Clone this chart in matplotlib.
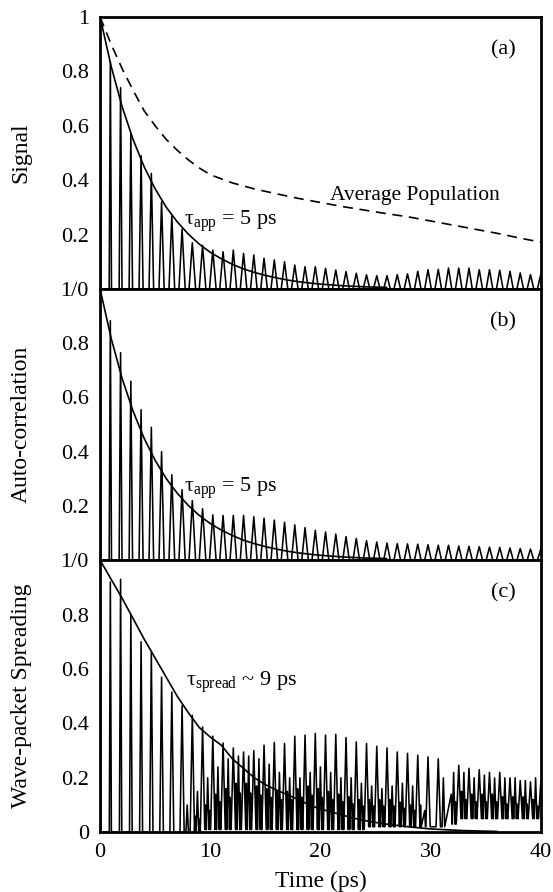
"""Signal, auto-correlation and wave-packet spreading vs time."""

import numpy as np
import matplotlib
matplotlib.use('Agg')
import matplotlib.pyplot as plt

# ---- data ---------------------------------------------------------------
period = 0.93  # ps between revivals

signal_peaks = [1.0, 0.835, 0.74, 0.57, 0.49, 0.425, 0.32, 0.27, 0.22, 0.17,
                0.16, 0.143, 0.137, 0.143, 0.131, 0.125, 0.113, 0.107, 0.10,
                0.088, 0.082, 0.082, 0.076, 0.07, 0.064, 0.058, 0.052, 0.049,
                0.049, 0.053, 0.056, 0.065, 0.071, 0.072, 0.077, 0.077, 0.077,
                0.071, 0.071, 0.069, 0.065, 0.059, 0.053, 0.053]

autocorr_peaks = [1.0, 0.883, 0.765, 0.66, 0.555, 0.49, 0.40, 0.315, 0.26,
                  0.22, 0.19, 0.167, 0.165, 0.165, 0.165, 0.16, 0.155, 0.148,
                  0.14, 0.13, 0.12, 0.11, 0.104, 0.096, 0.087, 0.08, 0.072,
                  0.067, 0.063, 0.061, 0.06, 0.059, 0.057, 0.055, 0.055,
                  0.052, 0.051, 0.05, 0.048, 0.047, 0.045, 0.043, 0.041, 0.04]

spread_peaks = [1.0, 0.92, 0.93, 0.80, 0.70, 0.66, 0.57, 0.515, 0.465, 0.43,
                0.387, 0.353, 0.328, 0.31, 0.295, 0.30, 0.32, 0.33, 0.326,
                0.353, 0.357, 0.363, 0.357, 0.36, 0.348, 0.332, 0.326, 0.316,
                0.31, 0.295, 0.29, 0.283, 0.277, 0.27, np.nan, 0.246, 0.235,
                0.23, 0.22, 0.22, 0.20, 0.19, 0.185, 0.18]

# secondary maxima half way between the main revivals (panel c only)
spread_secondary = [np.nan] * 8 + [
    0.10, 0.15, 0.20, 0.24, 0.27, 0.28, 0.28, 0.27, 0.25, 0.22, 0.20, 0.20,
    0.22, 0.24, 0.22, 0.20, 0.20, 0.18, 0.17, 0.16, 0.17, 0.18, 0.17,
    np.nan, np.nan, 0.20, 0.22, 0.22, 0.20, 0.21, 0.20, 0.20, 0.20, 0.19,
    0.20, 0.18]

# smaller wiggles on the flanks of the revivals (panel c only)
spread_shoulder = [np.nan] * 9 + [
    0.06, 0.10, 0.14, 0.16, 0.18, 0.18, 0.17, 0.16, 0.15, 0.15, 0.16,
    0.17, 0.16, 0.15, 0.14, 0.13, 0.12, 0.12, 0.12, 0.12, 0.11, 0.10,
    0.10, np.nan, np.nan, 0.14, 0.15, 0.14, 0.14, 0.14, 0.13, 0.13, 0.13,
    0.12, 0.12]

spread_floor = [0.0] * 10 + [0.01] * 16 + [0.02] * 8 + [0.03] + [0.05] * 9

fit_time = list(range(27))
fit_5ps = [1.0, 0.819, 0.670, 0.549, 0.449, 0.368, 0.301, 0.247, 0.202,
           0.165, 0.135, 0.111, 0.091, 0.074, 0.061, 0.050, 0.041, 0.033,
           0.027, 0.022, 0.018, 0.015, 0.012, 0.010, 0.008, 0.007, 0.006]

spread_fit_time = list(range(37))
spread_fit = [1.0, 0.93, 0.86, 0.785, 0.71, 0.64, 0.57, 0.50, 0.44, 0.385,
              0.35, 0.32, 0.27, 0.235, 0.20, 0.175, 0.155, 0.138, 0.12, 0.10,
              0.085, 0.075, 0.063, 0.052, 0.043, 0.036, 0.03, 0.025, 0.02,
              0.016, 0.012, 0.01, 0.008, 0.006, 0.005, 0.004, 0.003]

pop_time = [0, 1, 2, 3, 4, 5, 6, 7, 8, 9, 10, 12, 14, 16, 18, 20, 22, 24,
            26, 28, 30, 32, 34, 36, 38, 40]
avg_population = [1.0, 0.90, 0.81, 0.73, 0.655, 0.60, 0.55, 0.51, 0.475,
                  0.445, 0.42, 0.39, 0.368, 0.35, 0.333, 0.318, 0.303, 0.29,
                  0.277, 0.265, 0.25, 0.235, 0.22, 0.205, 0.188, 0.172]


def waveform(peaks, w_early, w_late, secondary=None, shoulder=None,
             floor=None):
    """Build a line through the revival maxima (triangular humps)."""
    ts, ys = [], []
    n = len(peaks)
    for k in range(n):
        t = k * period
        base = floor[k] if floor is not None else 0.0
        w = np.interp(t, [0, 8, 40], [w_early, w_late, w_late])
        h = peaks[k]
        if not np.isnan(h):
            if k > 0:
                ts.append(t - w)
                ys.append(base)
            ts += [t, t + w]
            ys += [h, base]
        if shoulder is not None and not np.isnan(shoulder[k]):
            ts += [t + 0.27 * period, t + 0.34 * period]
            ys += [shoulder[k], base]
        if secondary is not None and not np.isnan(secondary[k]):
            ws = 0.6 * w
            tm = t + period / 2
            ts += [tm - ws, tm, tm + ws]
            ys += [base, secondary[k], base]
        if shoulder is not None and not np.isnan(shoulder[k]):
            ts += [t + 0.68 * period, t + 0.75 * period]
            ys += [0.8 * shoulder[k], base]
    ts = np.array(ts)
    ys = np.array(ys)
    keep = ts <= 40
    return ts[keep], ys[keep]


def style_axis(ax, ylabel, ticks, labels, tag):
    ax.set_xlim(0, 40)
    ax.set_ylim(0, 1)
    ax.set_yticks(ticks)
    ax.set_yticklabels(labels)
    ax.set_ylabel(ylabel, fontsize=17)
    ax.yaxis.set_label_coords(-0.155, 0.5)
    ax.tick_params(length=0, labelsize=16, pad=8)
    for s in ax.spines.values():
        s.set_linewidth(2.0)
    ax.text(36.6, 0.88, tag, fontsize=16, ha='center', va='center')


def main():
    plt.rcParams['font.family'] = 'Liberation Serif'
    plt.rcParams['mathtext.fontset'] = 'custom'
    plt.rcParams['mathtext.rm'] = 'Liberation Serif'
    plt.rcParams['mathtext.it'] = 'Liberation Serif:italic'

    fig = plt.figure(figsize=(5.53, 8.92), dpi=100)
    left, width = 0.181, 0.797
    ax_a = fig.add_axes([left, 0.676, width, 0.305])
    ax_b = fig.add_axes([left, 0.372, width, 0.304])
    ax_c = fig.add_axes([left, 0.067, width, 0.305])

    # (a) signal
    t, y = waveform(signal_peaks, 0.08, 0.3)
    ax_a.plot(t, y, 'k', lw=1.15)
    ax_a.plot(fit_time, fit_5ps, 'k', lw=1.2)
    ax_a.plot(pop_time, avg_population, 'k', lw=1.2, dashes=(6, 4))
    ax_a.text(20.9, 0.345, 'Average Population', fontsize=15.5,
              ha='left', va='center')
    ax_a.text(7.6, 0.25, r'$\mathrm{\tau}_{\mathrm{app}}$ = 5 ps',
              fontsize=16, ha='left', va='center')
    style_axis(ax_a, 'Signal', [0, 0.2, 0.4, 0.6, 0.8, 1.0],
               ['1/0', '0.2', '0.4', '0.6', '0.8', '1'], '(a)')
    ax_a.set_xticks([])

    # (b) auto-correlation
    t, y = waveform(autocorr_peaks, 0.08, 0.3)
    ax_b.plot(t, y, 'k', lw=1.15)
    ax_b.plot(fit_time, fit_5ps, 'k', lw=1.2)
    ax_b.text(7.6, 0.265, r'$\mathrm{\tau}_{\mathrm{app}}$ = 5 ps',
              fontsize=16, ha='left', va='center')
    style_axis(ax_b, 'Auto-correlation', [0, 0.2, 0.4, 0.6, 0.8],
               ['1/0', '0.2', '0.4', '0.6', '0.8'], '(b)')
    ax_b.set_xticks([])

    # (c) wave-packet spreading
    t, y = waveform(spread_peaks, 0.08, 0.2, spread_secondary,
                    spread_shoulder, spread_floor)
    ax_c.plot(t, y, 'k', lw=1.15)
    ax_c.plot(spread_fit_time, spread_fit, 'k', lw=1.2)
    ax_c.text(7.8, 0.55, r'$\mathrm{\tau}_{\mathrm{spread}}$ ~ 9 ps',
              fontsize=16, ha='left', va='center')
    style_axis(ax_c, 'Wave-packet Spreading', [0, 0.2, 0.4, 0.6, 0.8],
               ['0', '0.2', '0.4', '0.6', '0.8'], '(c)')
    ax_c.set_xticks([0, 10, 20, 30, 40])
    ax_c.set_xlabel('Time (ps)', fontsize=17, labelpad=6)

    fig.savefig('out.png', dpi=100)


if __name__ == '__main__':
    main()
